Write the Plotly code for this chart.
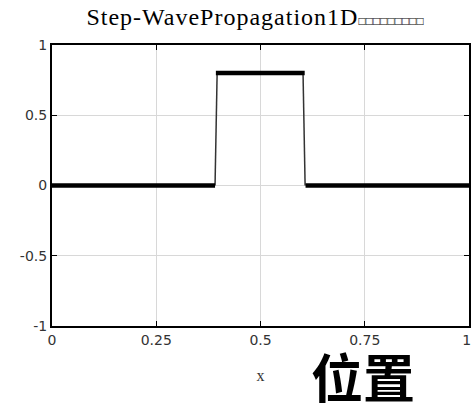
import plotly.graph_objects as go

# data
x_flat = [0.0, 0.391, None, 0.393, 0.606, None, 0.608, 1.0]
y_flat = [0.0, 0.0, None, 0.8, 0.8, None, 0.0, 0.0]
x_edge = [0.391, 0.393, 0.395, 0.396, None, 0.602, 0.603, 0.605, 0.607]
y_edge = [0.0, 0.3, 0.55, 0.8, None, 0.8, 0.55, 0.25, 0.0]
x_ticks = [0, 0.25, 0.5, 0.75, 1]
x_ticktext = ["0", "0.25", "0.5", "0.75", "1&nbsp;"]
y_ticks = [-1, -0.5, 0, 0.5, 1]
y_ticktext = ["-1", "-0.5", "0", "0.5", "1"]
title_text = "Step-WavePropagation1D"
title_suffix = "□□□□□□□□□"
xlabel = "x"
annot_text = "位置"

fig = go.Figure()
fig.add_trace(go.Scatter(x=x_edge, y=y_edge, mode="lines",
                         line=dict(color="#333333", width=1.5),
                         connectgaps=False, showlegend=False, cliponaxis=False))
fig.add_trace(go.Scatter(x=x_flat, y=y_flat, mode="lines",
                         line=dict(color="black", width=4.5),
                         connectgaps=False, showlegend=False, cliponaxis=False))

axis_common = dict(showline=True, linecolor="black", linewidth=2, mirror="ticks",
                   ticks="inside", ticklen=5, tickcolor="black", tickwidth=1,
                   showgrid=True, gridcolor="#d8d8d8", gridwidth=1, zeroline=False,
                   automargin=False, ticklabeloverflow="allow",
                   tickfont=dict(family="DejaVu Sans", size=14, color="#333333"))

W, H = 471, 403
ML, MR, MT, MB = 52, 2, 45, 77
pw = W - ML - MR
ph = H - MT - MB

fig.update_layout(
    width=W, height=H,
    margin=dict(l=ML, r=MR, t=MT, b=MB),
    paper_bgcolor="white", plot_bgcolor="white",
    title=dict(text="<span style='letter-spacing:1px'>" + title_text + "</span>"
               + "<span style='font-size:12px'>" + title_suffix + "</span>",
               x=255 / W, xanchor="center", y=1 - 17 / H, yanchor="middle",
               font=dict(family="Liberation Serif", size=24, color="black")),
    xaxis=dict(range=[0, 1], tickvals=x_ticks, ticktext=x_ticktext,
               title=dict(text=xlabel, font=dict(family="Liberation Serif", size=16, color="#333333"),
                          standoff=23), **axis_common),
    yaxis=dict(range=[-1, 1], tickvals=y_ticks, ticktext=y_ticktext, **axis_common),
    annotations=[dict(text="<b>" + annot_text + "</b>",
                      x=(363 - ML) / pw, y=(H - MB - 375) / ph,
                      xref="paper", yref="paper", xanchor="center", yanchor="middle",
                      showarrow=False,
                      font=dict(family="Noto Sans CJK SC", size=52, color="black"))],
)

fig.write_html("out.html", config={"displayModeBar": False},
               post_script="document.body.style.margin='0';document.body.style.overflow='hidden';")
